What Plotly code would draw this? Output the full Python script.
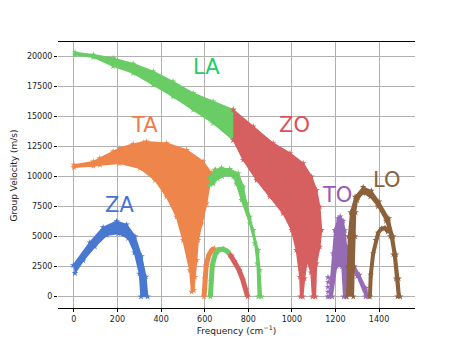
import plotly.graph_objects as go

# 各支的颜色 (seaborn muted)
colors = {'ZA': '#4878d0', 'TA': '#ee854a', 'LA': '#6acc64',
          'ZO': '#d65f5f', 'TO': '#956cb4', 'LO': '#8c613c'}
label_colors = {'ZA': '#4a72d4', 'TA': '#f07c48', 'LA': '#22cc66',
                'ZO': '#e04f57', 'TO': '#9b59b6', 'LO': '#8c613c'}

# ZA 带的轮廓 (frequency cm-1, group velocity m/s)
za_f = [-3, 73, 134, 196, 242, 280, 310, 330, 338, 308, 301, 278, 249, 203, 150, 96, 43, 5]
za_v = [2600, 4500, 5750, 6250, 5980, 5000, 3350, 1650, 0, 0, 1900, 3650, 4850, 5250, 5100, 4150, 3000, 1950]

# TA 扇形区
ta_f = [0, 89, 119, 180, 211, 272, 318, 333, 425, 517, 593, 632, 645, 624, 609, 586, 570, 563, 555, 550,
        540, 532, 501, 471, 425, 372, 303, 211, 119, 89, 0]
ta_v = [10950, 11220, 11500, 12050, 12330, 12690, 12800, 12880, 12750, 12190, 11220, 10250, 10500, 9420, 7750,
        6080, 4690, 3020, 1630, 520, 400, 2190, 4690, 6630, 8300, 9690, 10670, 11080, 10940, 10860, 10750]

# LA 主带
la_f = [5, 89, 180, 272, 364, 455, 547, 639, 731, 731, 639, 547, 455, 364, 272, 180, 89, 5]
la_v = [20300, 20110, 19830, 19360, 18720, 17880, 16920, 16220, 15530,
        13030, 14420, 15530, 16630, 17610, 18580, 19160, 19910, 20110]

# LA 第二段 (620-860)
la2_f = [624, 650, 677, 715, 754, 777, 792, 807, 823, 845, 853, 860, 846, 841, 830, 807, 769, 745, 731, 705, 680, 660, 640, 624]
la2_v = [9970, 10550, 10700, 10600, 10250, 9130, 7750, 6630, 5520, 3860, 2190, 0, 0, 2750, 4420, 6080, 8030,
         9400, 9970, 10150, 10000, 9800, 9400, 9300]

# 600-800 的小拱形 (三段)
arc_ta_f = [597, 600, 607, 618, 632, 645]
arc_ta_v = [0, 1500, 2600, 3400, 3850, 4000]
arc_la_f = [626, 628, 635, 648, 665, 685, 705, 722]
arc_la_v = [0, 1300, 2600, 3500, 3900, 3950, 3750, 3350]
arc_zo_f = [718, 738, 758, 775, 789, 797]
arc_zo_v = [3450, 2900, 2200, 1400, 600, 0]

# ZO 扇形区
zo_f = [731, 823, 914, 991, 1052, 1090, 1113, 1128, 1136, 1128, 1113, 1108, 1095, 1088, 1070, 1058, 1050,
        1040, 1037, 1021, 999, 960, 899, 838, 777, 731]
zo_v = [15530, 14140, 12750, 11920, 11080, 9970, 8860, 7470, 5520, 4130, 2750, 0, 0, 2000, 3000, 1500, 0,
        0, 1630, 3860, 5520, 6910, 8300, 9690, 11360, 13030]

# TO
to_f = [1172, 1178, 1189, 1197, 1212, 1222, 1235, 1243, 1250, 1275, 1310, 1340, 1352, 1338, 1300, 1262,
        1250, 1238, 1230, 1205, 1185]
to_v = [0, 1500, 3580, 5520, 6500, 6650, 6300, 5500, 4200, 3000, 1800, 700, 0, 0, 1700, 2500,
        0, 0, 2500, 2500, 0]
to_tail_f = [1165, 1166, 1165, 1167, 1166]
to_tail_v = [0, 400, 800, 1200, 1600]

# LO 外拱 + 内拱
lo_f = [1252, 1255, 1260, 1270, 1290, 1327, 1365, 1400, 1445, 1465, 1478, 1490, 1497,
        1485, 1478, 1466, 1452, 1432, 1395, 1360, 1327, 1300, 1292, 1290, 1287, 1282]
lo_v = [0, 2500, 5000, 7000, 8300, 9100, 8800, 7900, 6500, 5000, 3500, 1500, 0,
        0, 1500, 3500, 5000, 6300, 7500, 8300, 8600, 8000, 7000, 5000, 2500, 0]
lo_in_f = [1358, 1362, 1373, 1385, 1396, 1412, 1427, 1440]
lo_in_v = [0, 1800, 3580, 4700, 5300, 5650, 5700, 5400]

labels = ['ZA', 'TA', 'LA', 'ZO', 'TO', 'LO']
label_f = [211, 326, 609, 1014, 1208, 1434]
label_v = [7600, 14270, 19130, 14270, 8440, 9690]

fig = go.Figure()


def band(f, v, c):
    fig.add_trace(go.Scatter(x=f, y=v, mode='lines', fill='toself', fillcolor=c,
                             line=dict(color=c, width=1.5), hoverinfo='skip', showlegend=False))
    fig.add_trace(go.Scatter(x=f, y=v, mode='markers', marker=dict(symbol='star', size=5, color=c),
                             hoverinfo='skip', showlegend=False))


def arc(f, v, c, w=5):
    fig.add_trace(go.Scatter(x=f, y=v, mode='lines+markers', line=dict(color=c, width=w),
                             marker=dict(symbol='star', size=5, color=c),
                             hoverinfo='skip', showlegend=False))


band(za_f, za_v, colors['ZA'])
band(ta_f, ta_v, colors['TA'])
band(la_f, la_v, colors['LA'])
band(la2_f, la2_v, colors['LA'])
arc(arc_ta_f, arc_ta_v, colors['TA'])
arc(arc_la_f, arc_la_v, colors['LA'])
band(zo_f, zo_v, colors['ZO'])
arc(arc_zo_f, arc_zo_v, colors['ZO'])
band(to_f, to_v, colors['TO'])
fig.add_trace(go.Scatter(x=to_tail_f, y=to_tail_v, mode='markers',
                         marker=dict(symbol='star', size=5, color=colors['TO']),
                         hoverinfo='skip', showlegend=False))
band(lo_f, lo_v, colors['LO'])
arc(lo_in_f, lo_in_v, colors['LO'], w=4)

for name, x, y in zip(labels, label_f, label_v):
    fig.add_annotation(x=x, y=y, text=name, showarrow=False,
                       font=dict(family='DejaVu Sans', size=21, color=label_colors[name]))

# y 轴标题 (用注释放到最左侧)
fig.add_annotation(xref='paper', yref='paper', x=-0.122, y=0.5, text='Group Velocity (m/s)',
                   textangle=-90, showarrow=False, xanchor='center', yanchor='middle',
                   font=dict(family='DejaVu Sans', size=9, color='#222'))

fig.update_xaxes(range=[-73, 1565], tickvals=[0, 200, 400, 600, 800, 1000, 1200, 1400],
                 tickformat='d', automargin=False,
                 showgrid=True, gridcolor='#b0b0b0', gridwidth=1, zeroline=False,
                 showline=True, linecolor='black', linewidth=1.3, mirror=True,
                 ticks='outside', ticklen=3, tickcolor='black',
                 tickfont=dict(family='DejaVu Sans', size=8, color='#222'),
                 title=dict(text='Frequency (cm<sup>−1</sup>)', standoff=2,
                            font=dict(family='DejaVu Sans', size=9, color='#222')))
fig.update_yaxes(range=[-950, 21170], tickvals=[0, 2500, 5000, 7500, 10000, 12500, 15000, 17500, 20000],
                 tickformat='d', automargin=False,
                 showgrid=True, gridcolor='#b0b0b0', gridwidth=1, zeroline=False, showline=False,
                 ticks='outside', ticklen=3, tickcolor='black',
                 tickfont=dict(family='DejaVu Sans', size=8, color='#222'))

fig.update_layout(width=461, height=346, margin=dict(l=50, r=54, t=34, b=46),
                  plot_bgcolor='white', paper_bgcolor='white')

fig.write_html("out.html")
